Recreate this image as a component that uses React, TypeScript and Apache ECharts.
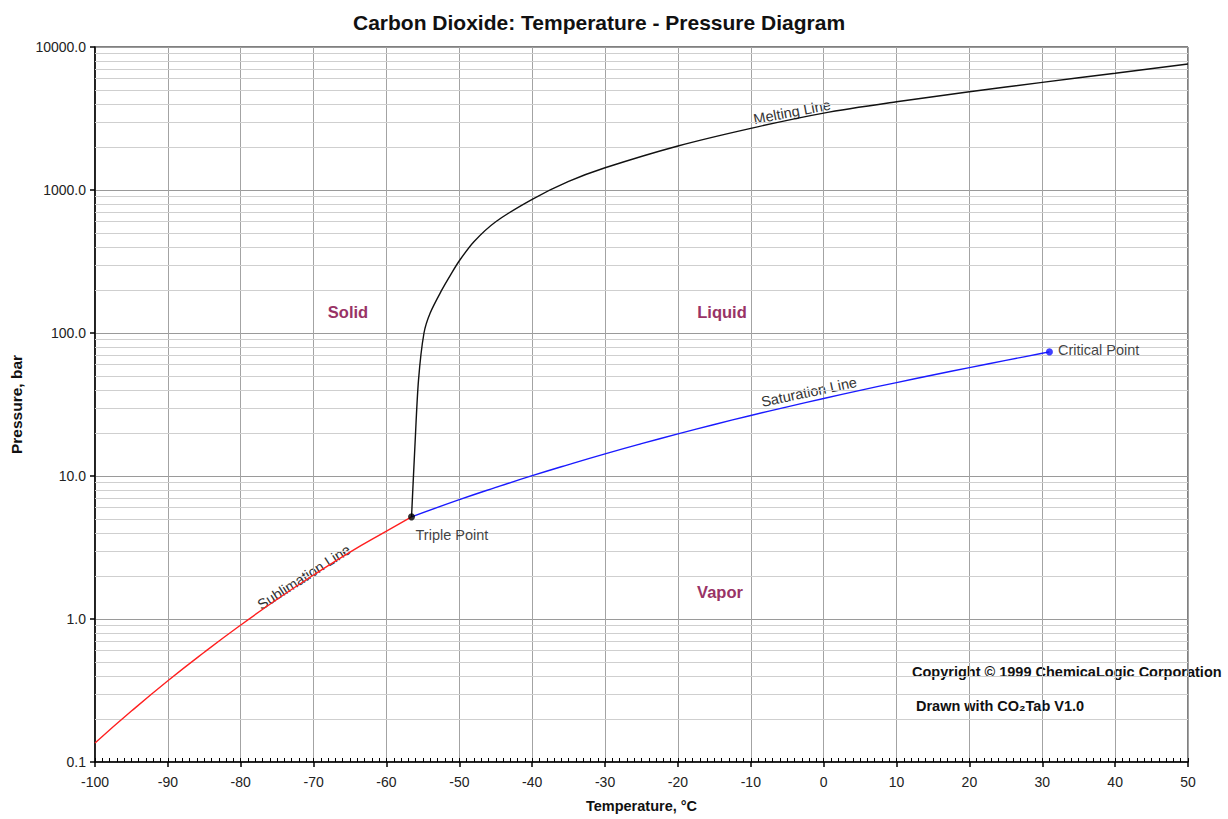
import React, { useEffect, useRef } from "react";
import * as echarts from "echarts";

// ---------- data ----------
const sublimationT = [-100, -95, -90, -85, -80, -75, -70, -65, -60, -56.56];
const sublimationP = [0.136, 0.227, 0.37, 0.586, 0.908, 1.374, 2.03, 2.94, 4.12, 5.18];

const saturationT = [-56.56, -50, -45, -40, -35, -30, -25, -20, -15, -10, -5, 0, 5, 10, 15, 20, 25, 30, 30.98];
const saturationP = [5.18, 6.83, 8.32, 10.05, 12.02, 14.28, 16.83, 19.7, 22.91, 26.49, 30.46, 34.85, 39.69, 45.02, 50.87, 57.29, 64.34, 72.14, 73.77];

const meltingT = [-56.56, -56.1, -55.6, -54.85, -54.0, -52.4, -51.2, -50, -48, -45, -40, -35, -30, -20, -10, 0, 10, 20, 30, 40, 50];
const meltingP = [5.18, 16, 47, 100, 138, 200, 255, 320, 435, 600, 861, 1148, 1430, 2032, 2700, 3450, 4140, 4860, 5660, 6550, 7600];

const triplePoint = [-56.56, 5.18];
const criticalPoint = [30.98, 73.77];

const xMin = -100;
const xMax = 50;
const yDecades = [0.1, 1, 10, 100, 1000];
const minorMultipliers = [2, 3, 4, 5, 6, 7, 8, 9];

const FONT = "'Liberation Sans', Arial, Helvetica, sans-serif";

function zip(xs: number[], ys: number[]) {
  return xs.map((x, i) => [x, ys[i]]);
}

export default function App() {
  const ref = useRef<HTMLDivElement>(null);

  useEffect(() => {
    if (!ref.current) return;
    const chart = echarts.init(ref.current, undefined, { renderer: "svg" });

    const minorLines: any[] = [];
    yDecades.forEach((d) =>
      minorMultipliers.forEach((m) => minorLines.push({ yAxis: d * m }))
    );

    const option: any = {
      animation: false,
      backgroundColor: "#ffffff",
      textStyle: { fontFamily: FONT },
      title: {
        text: "Carbon Dioxide: Temperature - Pressure Diagram",
        left: 348,
        top: 7,
        textStyle: { fontFamily: FONT, fontSize: 21, fontWeight: "bold", color: "#111" },
      },
      grid: {
        left: 95,
        right: 40,
        top: 47,
        bottom: 57,
        show: true,
        borderColor: "#000",
        borderWidth: 1,
        backgroundColor: "#fff",
      },
      xAxis: [
        {
          type: "value",
          min: xMin,
          max: xMax,
          interval: 10,
          position: "bottom",
          name: "Temperature, °C",
          nameLocation: "middle",
          nameGap: 36,
          nameTextStyle: { fontFamily: FONT, fontSize: 14.5, fontWeight: "bold", color: "#111" },
          axisLine: { show: true, onZero: false, lineStyle: { color: "#000", width: 1.5 } },
          axisTick: { show: true, inside: false, length: 5, lineStyle: { color: "#000", width: 1.5 } },
          axisLabel: { fontFamily: FONT, fontSize: 14, color: "#222", margin: 13 },
          splitLine: { show: true, lineStyle: { color: "#a3a3a3", width: 1 } },
        },
        {
          type: "value",
          min: xMin,
          max: xMax,
          interval: 1,
          position: "bottom",
          axisLine: { show: false, onZero: false },
          axisTick: { show: true, inside: true, length: 4, lineStyle: { color: "#000", width: 1 } },
          axisLabel: { show: false },
          splitLine: { show: false },
        },
      ],
      yAxis: {
        type: "log",
        logBase: 10,
        min: 0.1,
        max: 10000,
        name: "Pressure, bar",
        nameLocation: "middle",
        nameGap: 70,
        nameTextStyle: { fontFamily: FONT, fontSize: 15.5, fontWeight: "bold", color: "#111" },
        axisLine: { show: true, onZero: false, lineStyle: { color: "#000", width: 1.5 } },
        axisTick: { show: true, inside: false, length: 5, lineStyle: { color: "#000", width: 1.5 } },
        axisLabel: {
          fontFamily: FONT,
          fontSize: 14,
          color: "#222",
          margin: 9,
          formatter: (v: number) => Number(v).toFixed(1),
        },
        splitLine: { show: true, lineStyle: { color: "#9a9a9a", width: 1 } },
      },
      series: [
        {
          name: "minor grid",
          type: "line",
          data: [],
          z: 1,
          silent: true,
          markLine: {
            z: 1,
            silent: true,
            symbol: ["none", "none"],
            label: { show: false },
            lineStyle: { color: "#cfcfcf", width: 1, type: "solid" },
            data: minorLines,
          },
        },
        {
          name: "Sublimation Line",
          type: "line",
          data: zip(sublimationT, sublimationP),
          smooth: true,
          showSymbol: false,
          lineStyle: { color: "#ff2020", width: 1.4 },
          z: 3,
        },
        {
          name: "Saturation Line",
          type: "line",
          data: zip(saturationT, saturationP),
          smooth: true,
          showSymbol: false,
          lineStyle: { color: "#1a1aff", width: 1.4 },
          z: 3,
        },
        {
          name: "Melting Line",
          type: "line",
          data: zip(meltingT, meltingP),
          smooth: 0.3,
          showSymbol: false,
          lineStyle: { color: "#111", width: 1.4 },
          z: 3,
        },
        {
          name: "Triple Point",
          type: "scatter",
          data: [triplePoint],
          symbolSize: 7,
          itemStyle: { color: "#000" },
          z: 5,
          label: {
            show: true,
            position: [7.5, 14.5],
            formatter: "Triple Point",
            fontFamily: FONT,
            fontSize: 14.5,
            color: "#111",
          },
        },
        {
          name: "Critical Point",
          type: "scatter",
          data: [criticalPoint],
          symbolSize: 7,
          itemStyle: { color: "#1010ff" },
          z: 5,
          label: {
            show: true,
            position: "right",
            distance: 5,
            offset: [0, -2],
            formatter: "Critical Point",
            fontFamily: FONT,
            fontSize: 14.5,
            color: "#111",
          },
        },
      ],
      graphic: [
        { type: "text", x: 348, y: 312, style: { text: "Solid", fill: "#993366", font: `bold 16.5px ${FONT}`, textAlign: "center", textVerticalAlign: "middle" } },
        { type: "text", x: 722, y: 312, style: { text: "Liquid", fill: "#993366", font: `bold 16.5px ${FONT}`, textAlign: "center", textVerticalAlign: "middle" } },
        { type: "text", x: 720, y: 592, style: { text: "Vapor", fill: "#993366", font: `bold 16.5px ${FONT}`, textAlign: "center", textVerticalAlign: "middle" } },
        { type: "text", x: 792, y: 112, rotation: 0.19, style: { text: "Melting Line", fill: "#333", font: `14.5px ${FONT}`, textAlign: "center", textVerticalAlign: "middle" } },
        { type: "text", x: 809, y: 392, rotation: 0.21, style: { text: "Saturation Line", fill: "#333", font: `14.5px ${FONT}`, textAlign: "center", textVerticalAlign: "middle" } },
        { type: "text", x: 304, y: 577, rotation: 0.57, style: { text: "Sublimation Line", fill: "#333", font: `14.5px ${FONT}`, textAlign: "center", textVerticalAlign: "middle" } },
        { type: "text", x: 912, y: 672, style: { text: "Copyright © 1999 ChemicaLogic Corporation", fill: "#111", font: `bold 14.5px ${FONT}`, textAlign: "left", textVerticalAlign: "middle" } },
        { type: "text", x: 916, y: 706, style: { text: "Drawn with CO₂Tab V1.0", fill: "#111", font: `bold 14.5px ${FONT}`, textAlign: "left", textVerticalAlign: "middle" } },
      ],
    };

    chart.setOption(option);
    return () => chart.dispose();
  }, []);

  return (
    <div
      ref={ref}
      style={{ position: "absolute", left: 0, top: 0, width: 1228, height: 819 }}
    />
  );
}
